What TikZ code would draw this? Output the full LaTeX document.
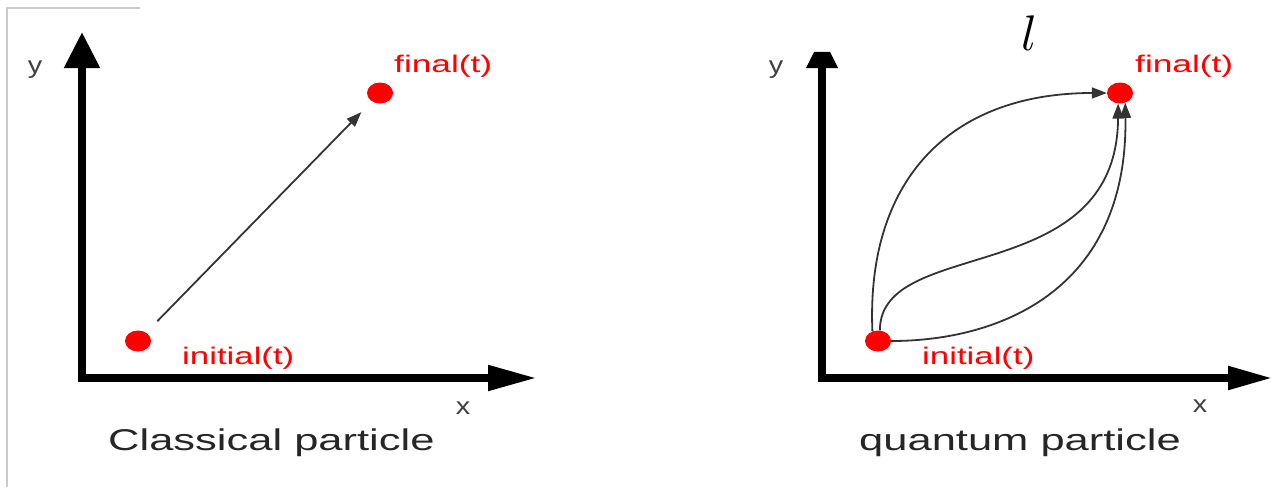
\documentclass[tikz,border=0pt]{standalone}
\usepackage{fontspec}
\setmainfont{Liberation Sans}
\usepackage{graphicx}
\usetikzlibrary{arrows.meta,shapes.geometric}
\newcommand\widetxt[2][1.42]{\scalebox{#1}[1]{#2}}
\begin{document}
\begin{tikzpicture}[x=1pt,y=-1pt,
  axis/.style={line width=8pt,black},
  dot/.style={ellipse,fill=red,minimum width=26pt,minimum height=21pt,inner sep=0pt},
  pathline/.style={line width=1.8pt,draw=black!80,-{Triangle[length=15pt,width=11pt]}},
  lbl/.style={text=red,font=\fontsize{24}{28}\selectfont,anchor=west,inner sep=0pt},
  captxt/.style={text=black!85,font=\fontsize{30}{34}\selectfont,anchor=west,inner sep=0pt},
  axtxt/.style={text=black!75,font=\fontsize{24}{28}\selectfont,inner sep=0pt},
  framel/.style={line width=2pt,black!20}]
\useasboundingbox (0,0) rectangle (1276,487);

% frame
\coordinate (fa) at (140,8);
\coordinate (fb) at (7,8);
\coordinate (fc) at (7,487);
\draw[framel] (fa) -- (fb) -- (fc);

% left axes
\coordinate (ly0) at (82,382);
\coordinate (ly1) at (82,32);
\coordinate (lx0) at (78,378);
\coordinate (lx1) at (537,378);
\draw[axis,-{Triangle[length=36pt,width=34pt]}] (ly0) -- (ly1);
\draw[axis,-{Triangle[length=49pt,width=24pt]}] (lx0) -- (lx1);

% right axes
\coordinate (ry0) at (822,382);
\coordinate (ry1) at (822,66);
\coordinate (rx0) at (818,378);
\coordinate (rx1) at (1273,378);
\draw[axis] (ry0) -- (ry1);
\fill (806,68) -- (838,68) -- (830,52) -- (814,52) -- cycle;
\draw[axis,-{Triangle[length=45pt,width=22pt]}] (rx0) -- (rx1);

% dots
\node[dot] (i1) at (138,341) {};
\node[dot] (f1) at (380,93) {};
\node[dot] (i2) at (878,341) {};
\node[dot] (f2) at (1120,93) {};

% classical path
\draw[pathline,shorten <=16pt,shorten >=15pt] (i1) -- (f1);

% quantum paths
\draw[pathline] (i2.120) .. controls (866,180) and (950,93) .. (f2);
\draw[pathline] (i2.80) .. controls (880,235) and (1117,290) .. (f2.-100);
\draw[pathline] (i2.east) .. controls (1000,341) and (1128,290) .. (f2.-62);

% labels
\node[lbl] (tf1) at (394,66) {\widetxt[1.47]{final(t)}};
\node[lbl] (ti1) at (182,358) {\widetxt[1.45]{initial(t)}};
\node[lbl] (tf2) at (1135,66) {\widetxt[1.47]{final(t)}};
\node[lbl] (ti2) at (922,358) {\widetxt[1.45]{initial(t)}};
\node[captxt] (c1) at (108,443) {\widetxt[1.45]{Classical particle}};
\node[captxt] (c2) at (859,443) {\widetxt[1.45]{quantum particle}};
\node[axtxt] (y1) at (35,70) {\widetxt[1.2]{y}};
\node[axtxt] (x1) at (463,408) {\widetxt[1.2]{x}};
\node[axtxt] (y2) at (776,70) {\widetxt[1.2]{y}};
\node[axtxt] (x2) at (1200,406) {\widetxt[1.2]{x}};
\node[inner sep=0pt] (ell) at (1029,33) {\scalebox{5}{$l$}};
\end{tikzpicture}
\end{document}
